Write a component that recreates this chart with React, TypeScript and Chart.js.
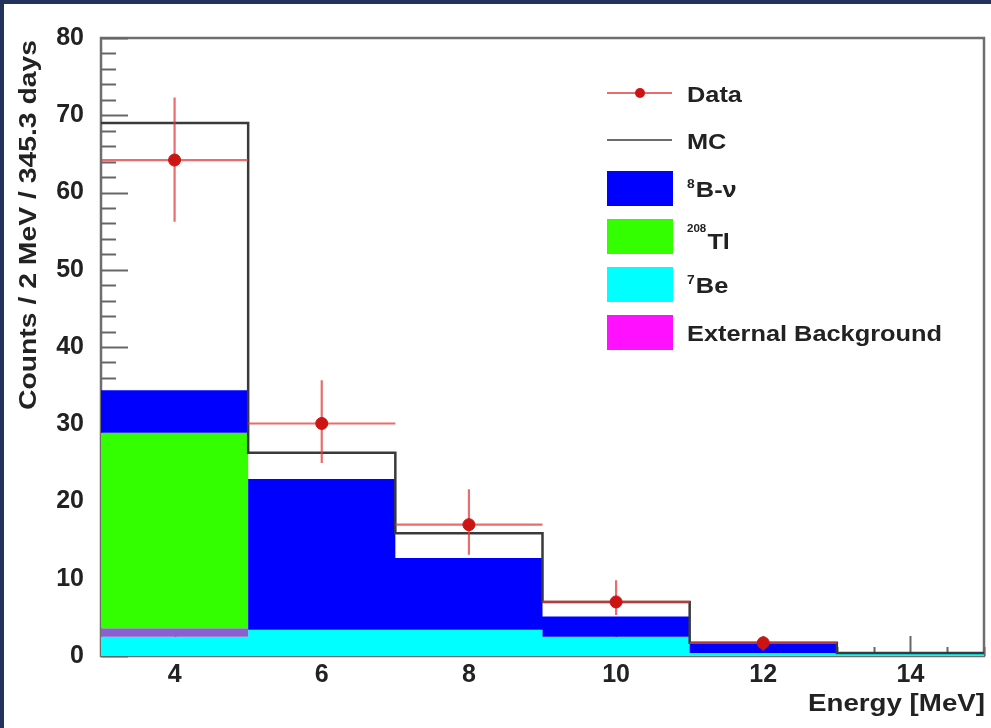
import { useEffect, useRef } from 'react';
import { Chart, registerables } from 'chart.js';
Chart.register(...registerables);

// ---- data ----
const binEdges = [3, 5, 7, 9, 11, 13, 15];
const binCenters = [4, 6, 8, 10, 12, 14];
const be7 = [2.5, 3.4, 3.4, 2.5, 0.4, 0.3];
const extBg = [1.1, 0, 0, 0, 0, 0];
const tl208 = [25.3, 0, 0, 0, 0, 0];
const b8 = [5.5, 19.5, 9.3, 2.6, 1.3, 0];
const mcTotal = [69.0, 26.3, 15.9, 7.0, 1.7, 0.4];
const dataVals = [64.2, 30.1, 17.0, 7.0, 1.7, null];
const dataLow = [56.2, 25.0, 13.1, 5.3, 0.7, null];
const dataHigh = [72.3, 35.7, 21.6, 9.8, 2.5, null];
const xTickValues = [4, 6, 8, 10, 12, 14];
const xTickLabels = ['4', '6', '8', '10', '12', '14'];
const yTickValues = [0, 10, 20, 30, 40, 50, 60, 70, 80];
const yTickLabels = ['0', '10', '20', '30', '40', '50', '60', '70', '80'];
const seriesNames = ['Data', 'MC', 'B-ν', 'Tl', 'Be', 'External Background'];
const seriesSups = ['', '', '8', '208', '7', ''];
const xTitle = 'Energy [MeV]';
const yTitle = 'Counts / 2 MeV / 345.3 days';

const FONT = '"Liberation Sans", Arial, Helvetica, sans-serif';
const C_BLUE = '#0000ff';
const C_GREEN = '#33ff00';
const C_CYAN = '#00ffff';
const C_MAGENTA = '#ff10ff';
const C_EXT_PLOT = '#8a5fcf';
const C_DATA = '#cc1414';
const C_ERR = 'rgba(225,60,60,0.75)';
const C_MC = '#3a3a3a';
const NAVY = '#22325a';

function stepPoints(vals: number[]) {
  return binEdges.map((x, i) => ({ x, y: vals[Math.min(i, vals.length - 1)] }));
}
function cumulative(...layers: number[][]) {
  return layers[0].map((_, i) => layers.reduce((s, l) => s + l[i], 0));
}

const bgPlugin = {
  id: 'bgFrame',
  beforeDraw(chart: any) {
    const ctx = chart.ctx;
    ctx.save();
    ctx.fillStyle = '#ffffff';
    ctx.fillRect(0, 0, chart.width, chart.height);
    ctx.fillStyle = NAVY;
    ctx.fillRect(0, 0, chart.width, 4);
    ctx.fillRect(0, 0, 4, chart.height);
    ctx.restore();
  },
  beforeDatasetsDraw(chart: any) {
    const ctx = chart.ctx;
    const a = chart.chartArea;
    const xs = chart.scales.x;
    const ys = chart.scales.y;
    ctx.save();
    ctx.strokeStyle = '#6e6e6e';
    ctx.lineWidth = 2.5;
    ctx.strokeRect(a.left, a.top, a.right - a.left, a.bottom - a.top);
    ctx.lineWidth = 2;
    ctx.strokeStyle = '#666';
    for (let v = 0; v <= 80; v += 2) {
      const y = Math.round(ys.getPixelForValue(v)) + 0.5;
      const len = v % 10 === 0 ? 27 : 15;
      ctx.beginPath();
      ctx.moveTo(a.left, y);
      ctx.lineTo(a.left + len, y);
      ctx.stroke();
    }
    for (let v = 3; v <= 15; v += 0.5) {
      const x = Math.round(xs.getPixelForValue(v)) + 0.5;
      const len = v % 2 === 0 ? 20 : 9;
      ctx.beginPath();
      ctx.moveTo(x, a.bottom);
      ctx.lineTo(x, a.bottom - len);
      ctx.stroke();
    }
    ctx.restore();
  },
};

const errPlugin = {
  id: 'errBars',
  beforeDatasetDraw(chart: any, args: any) {
    if (chart.data.datasets[args.index].label !== 'Data') return;
    const ctx = chart.ctx;
    const xs = chart.scales.x;
    const ys = chart.scales.y;
    ctx.save();
    ctx.strokeStyle = C_ERR;
    ctx.lineWidth = 2.2;
    dataVals.forEach((v, i) => {
      if (v === null) return;
      const cx = xs.getPixelForValue(binCenters[i]);
      const cy = ys.getPixelForValue(v);
      ctx.beginPath();
      ctx.moveTo(xs.getPixelForValue(binEdges[i]), cy);
      ctx.lineTo(xs.getPixelForValue(binEdges[i + 1]), cy);
      ctx.moveTo(cx, ys.getPixelForValue(dataLow[i] as number));
      ctx.lineTo(cx, ys.getPixelForValue(dataHigh[i] as number));
      ctx.stroke();
    });
    ctx.restore();
  },
};

function fitText(ctx: CanvasRenderingContext2D, text: string, x: number, y: number, px: number, target: number, align: 'left' | 'right' | 'center', rot = 0) {
  ctx.save();
  ctx.font = `bold ${px}px ${FONT}`;
  const w = ctx.measureText(text).width;
  const sx = target / w;
  ctx.translate(x, y);
  if (rot) ctx.rotate(rot);
  ctx.scale(sx, 1);
  ctx.textAlign = align;
  ctx.textBaseline = 'alphabetic';
  ctx.fillText(text, 0, 0);
  ctx.restore();
}

const textPlugin = {
  id: 'texts',
  afterDraw(chart: any) {
    const ctx = chart.ctx as CanvasRenderingContext2D;
    ctx.save();
    ctx.fillStyle = '#222';
    fitText(ctx, xTitle, 985, 711, 24, 177, 'right');
    fitText(ctx, yTitle, 36, 225, 24, 370, 'center', -Math.PI / 2);

    const lx = 607, tx = 687;
    const rows = [93, 140, 188, 236, 284, 332];
    const colors = ['', '', C_BLUE, C_GREEN, C_CYAN, C_MAGENTA];
    const fpx = 22;
    ctx.font = `bold ${fpx}px ${FONT}`;
    const sx = 255 / ctx.measureText(seriesNames[5]).width;
    seriesNames.forEach((name, i) => {
      const cy = rows[i];
      if (i === 0) {
        ctx.strokeStyle = C_ERR;
        ctx.lineWidth = 2;
        ctx.beginPath();
        ctx.moveTo(lx, cy);
        ctx.lineTo(lx + 65, cy);
        ctx.stroke();
        ctx.fillStyle = C_DATA;
        ctx.beginPath();
        ctx.arc(lx + 33, cy, 5, 0, Math.PI * 2);
        ctx.fill();
      } else if (i === 1) {
        ctx.strokeStyle = C_MC;
        ctx.lineWidth = 1.5;
        ctx.beginPath();
        ctx.moveTo(lx, cy);
        ctx.lineTo(lx + 65, cy);
        ctx.stroke();
      } else {
        ctx.fillStyle = colors[i];
        ctx.fillRect(lx, cy - 17, 66, 35);
      }
      ctx.fillStyle = '#222';
      const base = cy + (seriesSups[i] === '208' ? 13 : 9);
      ctx.save();
      ctx.translate(tx, base);
      ctx.scale(sx, 1);
      let off = 0;
      const sup = seriesSups[i];
      if (sup) {
        ctx.font = `bold ${sup.length > 1 ? 10 : 12}px ${FONT}`;
        ctx.fillText(sup, 0, sup.length > 1 ? -17 : -9);
        off = ctx.measureText(sup).width + 1;
      }
      ctx.font = `bold ${fpx}px ${FONT}`;
      ctx.fillText(name, off, 0);
      ctx.restore();
    });
    ctx.restore();
  },
};

export default function App() {
  const ref = useRef<HTMLCanvasElement | null>(null);
  useEffect(() => {
    if (!ref.current) return;
    const l1 = be7;
    const l2 = cumulative(be7, extBg);
    const l3 = cumulative(be7, extBg, tl208);
    const l4 = cumulative(be7, extBg, tl208, b8);
    const comp = (label: string, vals: number[], color: string, fill: any, order: number) => ({
      type: 'line' as const,
      label,
      data: stepPoints(vals),
      stepped: true,
      borderWidth: 0,
      borderColor: 'rgba(0,0,0,0)',
      backgroundColor: color,
      pointRadius: 0,
      fill,
      order,
    });
    const chart = new Chart(ref.current, {
      type: 'line',
      data: {
        datasets: [
          comp('7Be', l1, C_CYAN, 'origin', 5),
          comp('External Background', l2, C_EXT_PLOT, '-1', 4),
          comp('208Tl', l3, C_GREEN, '-1', 3),
          comp('8B', l4, C_BLUE, '-1', 2),
          {
            type: 'line',
            label: 'MC',
            data: stepPoints(mcTotal),
            stepped: true,
            borderWidth: 2.5,
            borderColor: C_MC,
            pointRadius: 0,
            fill: false,
            order: 1,
          },
          {
            type: 'line',
            label: 'Data',
            data: binCenters.map((x, i) => ({ x, y: dataVals[i] })),
            showLine: false,
            pointRadius: 6,
            pointBackgroundColor: C_DATA,
            pointBorderColor: C_DATA,
            order: 0,
          },
        ] as any,
      },
      options: {
        animation: false,
        responsive: false,
        devicePixelRatio: 1,
        layout: { padding: { left: 41, top: 38, right: 4, bottom: 32 } },
        plugins: { legend: { display: false }, tooltip: { enabled: false } },
        scales: {
          x: {
            type: 'linear',
            min: 3,
            max: 15,
            grid: { display: false },
            border: { display: false },
            afterBuildTicks: (s: any) => { s.ticks = xTickValues.map((v) => ({ value: v })); },
            afterFit: (s: any) => { s.height = 40; },
            ticks: {
              padding: -4,
              color: '#222',
              font: { family: FONT, size: 25, weight: 'bold' },
              callback: (_v: any, i: number) => xTickLabels[i],
            },
          },
          y: {
            type: 'linear',
            min: 0,
            max: 80,
            grid: { display: false },
            border: { display: false },
            afterBuildTicks: (s: any) => { s.ticks = yTickValues.map((v) => ({ value: v })); },
            afterFit: (s: any) => { s.width = 60; },
            ticks: {
              padding: 9,
              color: '#222',
              font: { family: FONT, size: 25, weight: 'bold' },
              callback: (_v: any, i: number) => yTickLabels[i],
            },
          },
        },
      } as any,
      plugins: [bgPlugin, errPlugin, textPlugin],
    });
    return () => chart.destroy();
  }, []);
  return (
    <div style={{ position: 'fixed', left: 0, top: 0, width: 991, height: 728 }}>
      <canvas ref={ref} width={991} height={728} style={{ display: 'block', width: 991, height: 728 }} />
    </div>
  );
}
